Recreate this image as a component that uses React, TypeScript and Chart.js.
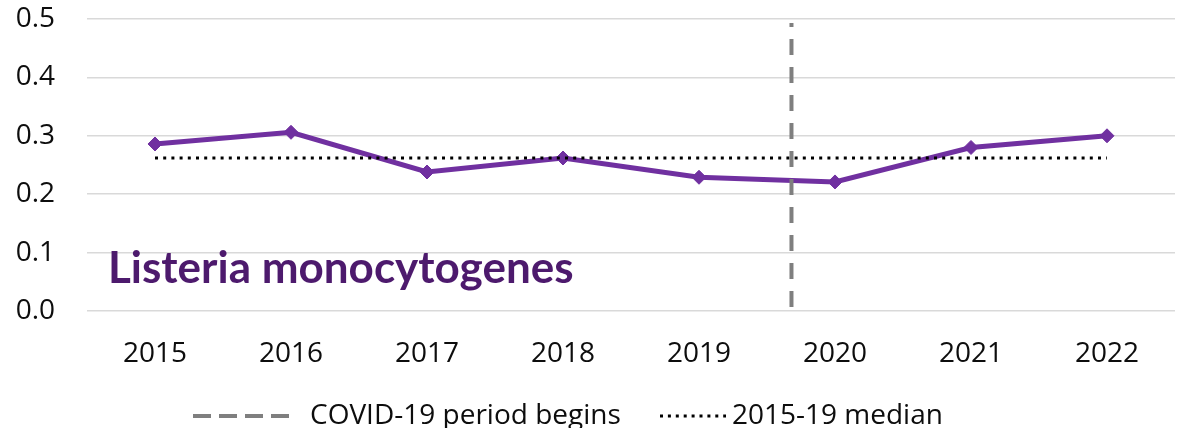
import { useEffect, useRef } from 'react';
import { Chart, registerables } from 'chart.js';

Chart.register(...registerables);

const years = ['2015', '2016', '2017', '2018', '2019', '2020', '2021', '2022'];
const listeriaRate = [0.286, 0.306, 0.238, 0.262, 0.229, 0.221, 0.28, 0.3];
const median2015to19 = 0.262;
const covidStartPosition = 4.68; // fraction of the way between the 2019 and 2020 categories
const covidLineRange = [0.007, 0.493];
const yTickValues = [0, 0.1, 0.2, 0.3, 0.4, 0.5];
const pathogenName = 'Listeria monocytogenes';
const legendLabels = ['COVID-19 period begins', '2015-19 median'];

const FONT = '"Open Sans", Lato, "DejaVu Sans", sans-serif';
const TITLE_FONT = 'Lato, "Open Sans", sans-serif';
const PURPLE = '#7030A0';
const TITLE_PURPLE = '#4d1a6d';
const GREY = '#7f7f7f';

const overlayPlugin = {
  id: 'overlay',
  afterDraw(chart: any) {
    const { ctx, chartArea, scales } = chart;
    const y = scales.y;
    ctx.save();
    // pathogen title
    ctx.font = `bold 44px ${TITLE_FONT}`;
    ctx.fillStyle = TITLE_PURPLE;
    ctx.textBaseline = 'alphabetic';
    ctx.textAlign = 'left';
    const targetW = 467;
    const w = ctx.measureText(pathogenName).width;
    const sx = w > targetW ? targetW / w : 1;
    const tx = chartArea.left + 21;
    const ty = y.getPixelForValue(0) - 28;
    ctx.translate(tx, ty);
    ctx.scale(sx, 1);
    ctx.fillText(pathogenName, 0, 0);
    ctx.restore();

    // legend
    ctx.save();
    const ly = chart.height - 12;
    ctx.font = `28px ${FONT}`;
    ctx.fillStyle = '#0d0d0d';
    ctx.textBaseline = 'middle';
    ctx.textAlign = 'left';
    // dashed sample
    ctx.strokeStyle = GREY;
    ctx.lineWidth = 4;
    ctx.setLineDash([18, 8]);
    ctx.beginPath();
    ctx.moveTo(193, ly);
    ctx.lineTo(289, ly);
    ctx.stroke();
    ctx.fillText(legendLabels[0], 310, ly);
    // dotted sample
    ctx.strokeStyle = '#000';
    ctx.lineWidth = 3;
    ctx.setLineDash([3, 4.9]);
    ctx.beginPath();
    ctx.moveTo(660, ly);
    ctx.lineTo(726, ly);
    ctx.stroke();
    ctx.setLineDash([]);
    ctx.fillText(legendLabels[1], 732, ly);
    ctx.restore();
  },
};

export default function App() {
  const ref = useRef<HTMLCanvasElement | null>(null);

  useEffect(() => {
    document.body.style.margin = '0';
    if (!ref.current) return;
    const chart = new Chart(ref.current, {
      type: 'line',
      data: {
        datasets: [
          {
            label: legendLabels[0],
            data: covidLineRange.map((v) => ({ x: covidStartPosition, y: v })),
            borderColor: GREY,
            borderWidth: 4,
            borderDash: [16, 12],
            pointRadius: 0,
            order: 0,
          },
          {
            label: legendLabels[1],
            data: [
              { x: 0, y: median2015to19 },
              { x: years.length - 1, y: median2015to19 },
            ],
            borderColor: '#000',
            borderWidth: 3,
            borderDash: [3, 5.2],
            pointRadius: 0,
            order: 1,
          },
          {
            label: pathogenName,
            data: listeriaRate.map((v, i) => ({ x: i, y: v })),
            borderColor: PURPLE,
            backgroundColor: PURPLE,
            borderWidth: 5,
            pointStyle: 'rectRot',
            pointRadius: 7,
            pointBorderWidth: 1,
            pointBackgroundColor: PURPLE,
            pointBorderColor: PURPLE,
            tension: 0,
            order: 2,
          },
        ],
      },
      options: {
        animation: false,
        responsive: false,
        maintainAspectRatio: false,
        layout: { autoPadding: false, padding: { top: 19, right: 4, left: 0, bottom: 57 } },
        plugins: {
          legend: { display: false },
          tooltip: { enabled: false },
          title: { display: false },
        },
        scales: {
          x: {
            type: 'linear',
            min: -0.5,
            max: years.length - 0.5,
            afterBuildTicks: (scale: any) => {
              scale.ticks = years.map((_, i) => ({ value: i }));
            },
            afterFit: (scale: any) => {
              scale.height = 60;
              scale.paddingLeft = 0;
              scale.paddingRight = 0;
            },
            grid: { display: false },
            border: { display: false },
            ticks: {
              autoSkip: false,
              maxRotation: 0,
              padding: 18,
              color: '#0d0d0d',
              font: { family: FONT, size: 28 },
              callback: (v: any) => years[Math.round(Number(v))] ?? '',
            },
          },
          y: {
            min: 0,
            max: 0.5,
            afterBuildTicks: (scale: any) => {
              scale.ticks = yTickValues.map((v) => ({ value: v }));
            },
            afterFit: (scale: any) => {
              scale.width = 87;
              scale.paddingTop = 0;
              scale.paddingBottom = 0;
            },
            grid: { color: '#d9d9d9', lineWidth: 1.6, drawTicks: false },
            border: { display: false },
            ticks: {
              padding: 32,
              color: '#0d0d0d',
              font: { family: FONT, size: 28 },
              callback: (v: any) => Number(v).toFixed(1),
            },
          },
        },
      },
      plugins: [overlayPlugin],
    });
    return () => chart.destroy();
  }, []);

  return (
    <div style={{ width: 1179, height: 428, position: 'relative' }}>
      <canvas ref={ref} width={1179} height={428} style={{ display: 'block', width: 1179, height: 428 }} />
    </div>
  );
}
